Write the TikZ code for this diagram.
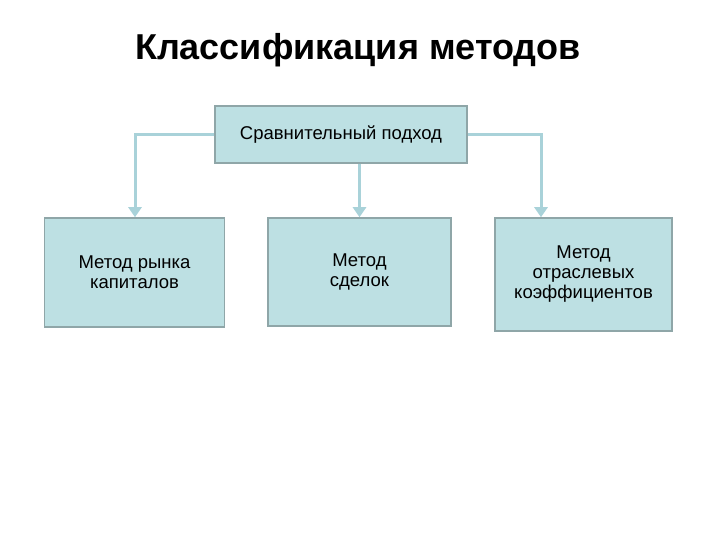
\documentclass[tikz,border=0pt]{standalone}
\usepackage{fontspec}
\setmainfont{Liberation Sans}
\usetikzlibrary{arrows.meta}
\definecolor{boxfill}{HTML}{BDE0E3}
\definecolor{boxline}{HTML}{8FA6A8}
\definecolor{conn}{HTML}{A9D2D9}
\begin{document}
\begin{tikzpicture}[x=1pt,y=-1pt,
  box/.style={draw=boxline, line width=1.5pt, fill=boxfill, align=center, font=\fontsize{18.5}{20}\selectfont, inner sep=0pt},
  conn/.style={draw=conn, line width=3pt, -{Triangle[width=13pt,length=10pt]}}]
\useasboundingbox (0,0) rectangle (720,540);
\node[font=\bfseries\fontsize{36}{40}\selectfont, anchor=base] (title) at (358,60) {Классификация методов};
\node[box, minimum width=252pt, minimum height=57pt] (top) at (341,134.5) {Сравнительный подход};
\node[box, minimum width=180pt, minimum height=109pt] (left) at (134.5,272.5) {Метод рынка\\капиталов};
\node[box, minimum width=183pt, minimum height=108pt] (mid) at (359.5,272) {Метод\\сделок};
\node[box, minimum width=177pt, minimum height=113pt] (right) at (583.5,274.5) {Метод\\отраслевых\\коэффициентов};
\coordinate (lc) at (135,134.5);
\coordinate (rc) at (541,134.5);
\draw[conn] (top.west) -- (lc) -- (lc |- left.north);
\draw[conn] (top.east) -- (rc) -- (rc |- right.north);
\draw[conn] (top.south -| mid.north) -- (mid.north);
\end{tikzpicture}
\end{document}
